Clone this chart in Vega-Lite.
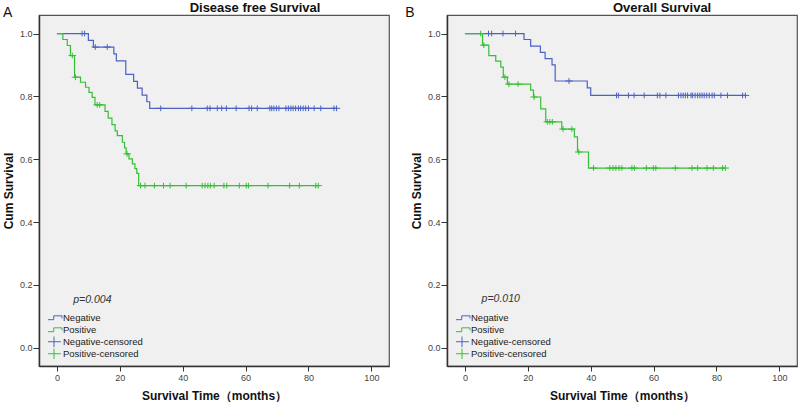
{
  "$schema": "https://vega.github.io/schema/vega-lite/v6.json",
  "autosize": {"type": "pad"},
  "padding": {"left": 1, "top": 0, "right": 0, "bottom": 0},
  "background": "white",
  "bounds": "flush",
  "spacing": 58,
  "resolve": {"scale": {"color": "independent", "shape": "independent"}, "legend": {"color": "independent", "shape": "independent"}},
  "config": {
    "font": "Liberation Sans",
    "view": {"fill": "#f0f0f0", "stroke": "#555555", "strokeWidth": 1.2},
    "axis": {"grid": false, "domainColor": "#333333", "domainWidth": 1.5, "tickColor": "#333333", "labelFontSize": 9, "labelColor": "#444444", "titleFontSize": 12, "titleFontWeight": "bold", "titleColor": "#111111", "labelFont": "Liberation Sans", "titleFont": "Liberation Sans"},
    "legend": {"orient": "none", "legendX": 9, "legendY": 297, "title": null, "labelFontSize": 9.5, "labelColor": "#222222", "symbolSize": 121, "symbolStrokeWidth": 1, "padding": 0, "rowPadding": 0, "clipHeight": 11.5, "labelOffset": 3, "labelFont": "Liberation Sans"}
  },
  "datasets": {
    "dfs_curve": [
      {"series": "Negative", "t": 0, "s": 1.0},
      {"series": "Negative", "t": 10.0, "s": 0.978},
      {"series": "Negative", "t": 11.6, "s": 0.957},
      {"series": "Negative", "t": 18.1, "s": 0.935},
      {"series": "Negative", "t": 18.9, "s": 0.913},
      {"series": "Negative", "t": 21.9, "s": 0.870},
      {"series": "Negative", "t": 24.4, "s": 0.848},
      {"series": "Negative", "t": 25.6, "s": 0.826},
      {"series": "Negative", "t": 27.1, "s": 0.804},
      {"series": "Negative", "t": 28.6, "s": 0.783},
      {"series": "Negative", "t": 29.5, "s": 0.762},
      {"series": "Negative", "t": 88.9, "s": 0.762},
      {"series": "Positive", "t": 0, "s": 1.0},
      {"series": "Positive", "t": 1.9, "s": 0.981},
      {"series": "Positive", "t": 3.3, "s": 0.962},
      {"series": "Positive", "t": 4.3, "s": 0.930},
      {"series": "Positive", "t": 5.6, "s": 0.861},
      {"series": "Positive", "t": 7.5, "s": 0.845},
      {"series": "Positive", "t": 9.1, "s": 0.829},
      {"series": "Positive", "t": 10.2, "s": 0.813},
      {"series": "Positive", "t": 11.2, "s": 0.797},
      {"series": "Positive", "t": 12.1, "s": 0.773},
      {"series": "Positive", "t": 15.3, "s": 0.752},
      {"series": "Positive", "t": 16.3, "s": 0.731},
      {"series": "Positive", "t": 17.5, "s": 0.710},
      {"series": "Positive", "t": 18.5, "s": 0.690},
      {"series": "Positive", "t": 19.2, "s": 0.675},
      {"series": "Positive", "t": 20.8, "s": 0.654},
      {"series": "Positive", "t": 21.5, "s": 0.636},
      {"series": "Positive", "t": 22.0, "s": 0.617},
      {"series": "Positive", "t": 22.9, "s": 0.601},
      {"series": "Positive", "t": 24.0, "s": 0.585},
      {"series": "Positive", "t": 24.8, "s": 0.570},
      {"series": "Positive", "t": 25.4, "s": 0.555},
      {"series": "Positive", "t": 26.0, "s": 0.516},
      {"series": "Positive", "t": 83.1, "s": 0.516}
    ],
    "dfs_cens": [
      {"series": "Negative-censored", "t": 8.0, "s": 1.0},
      {"series": "Negative-censored", "t": 8.8, "s": 1.0},
      {"series": "Negative-censored", "t": 12.2, "s": 0.957},
      {"series": "Negative-censored", "t": 16.0, "s": 0.957},
      {"series": "Negative-censored", "t": 33.0, "s": 0.762},
      {"series": "Negative-censored", "t": 42.9, "s": 0.762},
      {"series": "Negative-censored", "t": 47.8, "s": 0.762},
      {"series": "Negative-censored", "t": 48.7, "s": 0.762},
      {"series": "Negative-censored", "t": 51.0, "s": 0.762},
      {"series": "Negative-censored", "t": 52.4, "s": 0.762},
      {"series": "Negative-censored", "t": 53.9, "s": 0.762},
      {"series": "Negative-censored", "t": 57.0, "s": 0.762},
      {"series": "Negative-censored", "t": 61.1, "s": 0.762},
      {"series": "Negative-censored", "t": 61.9, "s": 0.762},
      {"series": "Negative-censored", "t": 63.7, "s": 0.762},
      {"series": "Negative-censored", "t": 67.7, "s": 0.762},
      {"series": "Negative-censored", "t": 68.3, "s": 0.762},
      {"series": "Negative-censored", "t": 69.0, "s": 0.762},
      {"series": "Negative-censored", "t": 69.8, "s": 0.762},
      {"series": "Negative-censored", "t": 70.6, "s": 0.762},
      {"series": "Negative-censored", "t": 72.8, "s": 0.762},
      {"series": "Negative-censored", "t": 73.6, "s": 0.762},
      {"series": "Negative-censored", "t": 74.4, "s": 0.762},
      {"series": "Negative-censored", "t": 75.1, "s": 0.762},
      {"series": "Negative-censored", "t": 75.9, "s": 0.762},
      {"series": "Negative-censored", "t": 76.8, "s": 0.762},
      {"series": "Negative-censored", "t": 77.5, "s": 0.762},
      {"series": "Negative-censored", "t": 78.3, "s": 0.762},
      {"series": "Negative-censored", "t": 79.1, "s": 0.762},
      {"series": "Negative-censored", "t": 80.0, "s": 0.762},
      {"series": "Negative-censored", "t": 81.8, "s": 0.762},
      {"series": "Negative-censored", "t": 83.9, "s": 0.762},
      {"series": "Negative-censored", "t": 88.1, "s": 0.762},
      {"series": "Negative-censored", "t": 88.9, "s": 0.762},
      {"series": "Positive-censored", "t": 4.9, "s": 0.930},
      {"series": "Positive-censored", "t": 5.9, "s": 0.861},
      {"series": "Positive-censored", "t": 12.8, "s": 0.773},
      {"series": "Positive-censored", "t": 13.6, "s": 0.773},
      {"series": "Positive-censored", "t": 22.3, "s": 0.617},
      {"series": "Positive-censored", "t": 26.6, "s": 0.516},
      {"series": "Positive-censored", "t": 28.0, "s": 0.516},
      {"series": "Positive-censored", "t": 31.0, "s": 0.516},
      {"series": "Positive-censored", "t": 33.9, "s": 0.516},
      {"series": "Positive-censored", "t": 36.0, "s": 0.516},
      {"series": "Positive-censored", "t": 41.1, "s": 0.516},
      {"series": "Positive-censored", "t": 46.2, "s": 0.516},
      {"series": "Positive-censored", "t": 47.1, "s": 0.516},
      {"series": "Positive-censored", "t": 48.0, "s": 0.516},
      {"series": "Positive-censored", "t": 48.8, "s": 0.516},
      {"series": "Positive-censored", "t": 50.0, "s": 0.516},
      {"series": "Positive-censored", "t": 53.1, "s": 0.516},
      {"series": "Positive-censored", "t": 54.0, "s": 0.516},
      {"series": "Positive-censored", "t": 58.0, "s": 0.516},
      {"series": "Positive-censored", "t": 60.2, "s": 0.516},
      {"series": "Positive-censored", "t": 60.9, "s": 0.516},
      {"series": "Positive-censored", "t": 67.1, "s": 0.516},
      {"series": "Positive-censored", "t": 74.0, "s": 0.516},
      {"series": "Positive-censored", "t": 77.1, "s": 0.516},
      {"series": "Positive-censored", "t": 82.3, "s": 0.516},
      {"series": "Positive-censored", "t": 83.1, "s": 0.516}
    ],
    "dfs_letter": [{"label": "A", "t": -15.7, "s": 1.053}],
    "dfs_title": [{"label": "Disease free Survival", "t": 63.0, "s": 1.070}],
    "dfs_p": [{"label": "p=0.004", "t": 5.2, "s": 0.153}],
    "os_curve": [
      {"series": "Negative", "t": 0, "s": 1.0},
      {"series": "Negative", "t": 18.8, "s": 0.981},
      {"series": "Negative", "t": 20.9, "s": 0.960},
      {"series": "Negative", "t": 24.0, "s": 0.940},
      {"series": "Negative", "t": 25.5, "s": 0.920},
      {"series": "Negative", "t": 27.7, "s": 0.900},
      {"series": "Negative", "t": 28.7, "s": 0.849},
      {"series": "Negative", "t": 38.9, "s": 0.827},
      {"series": "Negative", "t": 40.0, "s": 0.803},
      {"series": "Negative", "t": 89.2, "s": 0.803},
      {"series": "Positive", "t": 0, "s": 1.0},
      {"series": "Positive", "t": 5.6, "s": 0.963},
      {"series": "Positive", "t": 7.6, "s": 0.930},
      {"series": "Positive", "t": 9.8, "s": 0.912},
      {"series": "Positive", "t": 11.4, "s": 0.893},
      {"series": "Positive", "t": 12.2, "s": 0.861},
      {"series": "Positive", "t": 13.5, "s": 0.839},
      {"series": "Positive", "t": 20.9, "s": 0.820},
      {"series": "Positive", "t": 21.8, "s": 0.798},
      {"series": "Positive", "t": 24.1, "s": 0.760},
      {"series": "Positive", "t": 25.7, "s": 0.719},
      {"series": "Positive", "t": 30.8, "s": 0.696},
      {"series": "Positive", "t": 34.8, "s": 0.671},
      {"series": "Positive", "t": 35.8, "s": 0.623},
      {"series": "Positive", "t": 39.3, "s": 0.572},
      {"series": "Positive", "t": 82.8, "s": 0.572}
    ],
    "os_cens": [
      {"series": "Negative-censored", "t": 7.5, "s": 1.0},
      {"series": "Negative-censored", "t": 8.5, "s": 1.0},
      {"series": "Negative-censored", "t": 12.1, "s": 1.0},
      {"series": "Negative-censored", "t": 16.1, "s": 1.0},
      {"series": "Negative-censored", "t": 33.1, "s": 0.849},
      {"series": "Negative-censored", "t": 48.2, "s": 0.803},
      {"series": "Negative-censored", "t": 48.8, "s": 0.803},
      {"series": "Negative-censored", "t": 52.0, "s": 0.803},
      {"series": "Negative-censored", "t": 53.8, "s": 0.803},
      {"series": "Negative-censored", "t": 57.0, "s": 0.803},
      {"series": "Negative-censored", "t": 61.2, "s": 0.803},
      {"series": "Negative-censored", "t": 62.0, "s": 0.803},
      {"series": "Negative-censored", "t": 63.9, "s": 0.803},
      {"series": "Negative-censored", "t": 67.9, "s": 0.803},
      {"series": "Negative-censored", "t": 68.7, "s": 0.803},
      {"series": "Negative-censored", "t": 69.4, "s": 0.803},
      {"series": "Negative-censored", "t": 70.1, "s": 0.803},
      {"series": "Negative-censored", "t": 70.8, "s": 0.803},
      {"series": "Negative-censored", "t": 71.9, "s": 0.803},
      {"series": "Negative-censored", "t": 72.4, "s": 0.803},
      {"series": "Negative-censored", "t": 73.2, "s": 0.803},
      {"series": "Negative-censored", "t": 74.0, "s": 0.803},
      {"series": "Negative-censored", "t": 74.7, "s": 0.803},
      {"series": "Negative-censored", "t": 75.4, "s": 0.803},
      {"series": "Negative-censored", "t": 76.1, "s": 0.803},
      {"series": "Negative-censored", "t": 76.9, "s": 0.803},
      {"series": "Negative-censored", "t": 77.7, "s": 0.803},
      {"series": "Negative-censored", "t": 78.6, "s": 0.803},
      {"series": "Negative-censored", "t": 79.3, "s": 0.803},
      {"series": "Negative-censored", "t": 81.4, "s": 0.803},
      {"series": "Negative-censored", "t": 83.5, "s": 0.803},
      {"series": "Negative-censored", "t": 88.3, "s": 0.803},
      {"series": "Negative-censored", "t": 89.2, "s": 0.803},
      {"series": "Positive-censored", "t": 5.0, "s": 1.0},
      {"series": "Positive-censored", "t": 6.0, "s": 0.963},
      {"series": "Positive-censored", "t": 12.7, "s": 0.861},
      {"series": "Positive-censored", "t": 14.0, "s": 0.839},
      {"series": "Positive-censored", "t": 16.9, "s": 0.839},
      {"series": "Positive-censored", "t": 22.0, "s": 0.798},
      {"series": "Positive-censored", "t": 26.2, "s": 0.719},
      {"series": "Positive-censored", "t": 27.0, "s": 0.719},
      {"series": "Positive-censored", "t": 27.8, "s": 0.719},
      {"series": "Positive-censored", "t": 31.2, "s": 0.696},
      {"series": "Positive-censored", "t": 34.0, "s": 0.696},
      {"series": "Positive-censored", "t": 36.2, "s": 0.623},
      {"series": "Positive-censored", "t": 40.9, "s": 0.572},
      {"series": "Positive-censored", "t": 46.1, "s": 0.572},
      {"series": "Positive-censored", "t": 47.1, "s": 0.572},
      {"series": "Positive-censored", "t": 48.0, "s": 0.572},
      {"series": "Positive-censored", "t": 49.0, "s": 0.572},
      {"series": "Positive-censored", "t": 49.9, "s": 0.572},
      {"series": "Positive-censored", "t": 53.1, "s": 0.572},
      {"series": "Positive-censored", "t": 53.9, "s": 0.572},
      {"series": "Positive-censored", "t": 57.7, "s": 0.572},
      {"series": "Positive-censored", "t": 59.9, "s": 0.572},
      {"series": "Positive-censored", "t": 60.7, "s": 0.572},
      {"series": "Positive-censored", "t": 66.9, "s": 0.572},
      {"series": "Positive-censored", "t": 72.2, "s": 0.572},
      {"series": "Positive-censored", "t": 74.0, "s": 0.572},
      {"series": "Positive-censored", "t": 77.0, "s": 0.572},
      {"series": "Positive-censored", "t": 79.0, "s": 0.572},
      {"series": "Positive-censored", "t": 81.9, "s": 0.572},
      {"series": "Positive-censored", "t": 82.8, "s": 0.572}
    ],
    "os_letter": [{"label": "B", "t": -17.5, "s": 1.053}],
    "os_title": [{"label": "Overall Survival", "t": 62.7, "s": 1.070}],
    "os_p": [{"label": "p=0.010", "t": 5.3, "s": 0.155}]
  },
  "hconcat": [
    {
      "width": 350,
      "height": 351,
      "encoding": {
        "x": {"field": "t", "type": "quantitative", "scale": {"domain": [-5.7, 105.6], "nice": false, "zero": false}, "axis": {"values": [0, 20, 40, 60, 80, 100], "title": "Survival Time（months）", "tickSize": 5, "labelPadding": 2, "titlePadding": 8}},
        "y": {"field": "s", "type": "quantitative", "scale": {"domain": [-0.058, 1.059], "nice": false, "zero": false}, "axis": {"values": [0, 0.2, 0.4, 0.6, 0.8, 1.0], "format": ".1f", "title": "Cum Survival", "tickSize": 6, "labelPadding": 1, "titlePadding": 4}}
      },
      "layer": [
        {
          "data": {"name": "dfs_curve"},
          "mark": {"type": "line", "interpolate": "step-after", "strokeWidth": 1.2},
          "encoding": {"color": {"field": "series", "type": "nominal", "scale": {"domain": ["Negative", "Positive", "Negative-censored", "Positive-censored"], "range": ["#4b62c4", "#34c034", "#4b62c4", "#34c034"]}}}
        },
        {
          "data": {"name": "dfs_cens"},
          "mark": {"type": "point", "filled": false, "size": 36, "strokeWidth": 1, "opacity": 1},
          "encoding": {
            "color": {"field": "series", "type": "nominal", "scale": {"domain": ["Negative", "Positive", "Negative-censored", "Positive-censored"], "range": ["#4b62c4", "#34c034", "#4b62c4", "#34c034"]}},
            "shape": {"field": "series", "type": "nominal", "scale": {"domain": ["Negative", "Positive", "Negative-censored", "Positive-censored"], "range": ["M-1.45,0.35H-0.05V-0.35H1.45V0.1", "M-1.45,0.35H-0.05V-0.35H1.45V0.1", "M-1.25,0H1.25M0,-0.95V0.95", "M-1.25,0H1.25M0,-0.95V0.95"]}}
          }
        },
        {
          "data": {"name": "dfs_letter"},
          "mark": {"type": "text", "fontSize": 14, "align": "center", "baseline": "alphabetic", "color": "#111111", "font": "Liberation Sans"},
          "encoding": {"text": {"field": "label"}}
        },
        {
          "data": {"name": "dfs_title"},
          "mark": {"type": "text", "fontSize": 13, "fontWeight": "bold", "align": "center", "baseline": "alphabetic", "color": "#111111", "font": "Liberation Sans"},
          "encoding": {"text": {"field": "label"}}
        },
        {
          "data": {"name": "dfs_p"},
          "mark": {"type": "text", "fontSize": 10.5, "fontStyle": "italic", "align": "left", "baseline": "middle", "color": "#333333", "font": "Liberation Sans"},
          "encoding": {"text": {"field": "label"}}
        }
      ]
    },
    {
      "width": 350,
      "height": 351,
      "encoding": {
        "x": {"field": "t", "type": "quantitative", "scale": {"domain": [-5.7, 105.6], "nice": false, "zero": false}, "axis": {"values": [0, 20, 40, 60, 80, 100], "title": "Survival Time（months）", "tickSize": 5, "labelPadding": 2, "titlePadding": 8}},
        "y": {"field": "s", "type": "quantitative", "scale": {"domain": [-0.058, 1.059], "nice": false, "zero": false}, "axis": {"values": [0, 0.2, 0.4, 0.6, 0.8, 1.0], "format": ".1f", "title": "Cum Survival", "tickSize": 6, "labelPadding": 1, "titlePadding": 4}}
      },
      "layer": [
        {
          "data": {"name": "os_curve"},
          "mark": {"type": "line", "interpolate": "step-after", "strokeWidth": 1.2},
          "encoding": {"color": {"field": "series", "type": "nominal", "scale": {"domain": ["Negative", "Positive", "Negative-censored", "Positive-censored"], "range": ["#4b62c4", "#34c034", "#4b62c4", "#34c034"]}}}
        },
        {
          "data": {"name": "os_cens"},
          "mark": {"type": "point", "filled": false, "size": 36, "strokeWidth": 1, "opacity": 1},
          "encoding": {
            "color": {"field": "series", "type": "nominal", "scale": {"domain": ["Negative", "Positive", "Negative-censored", "Positive-censored"], "range": ["#4b62c4", "#34c034", "#4b62c4", "#34c034"]}},
            "shape": {"field": "series", "type": "nominal", "scale": {"domain": ["Negative", "Positive", "Negative-censored", "Positive-censored"], "range": ["M-1.45,0.35H-0.05V-0.35H1.45V0.1", "M-1.45,0.35H-0.05V-0.35H1.45V0.1", "M-1.25,0H1.25M0,-0.95V0.95", "M-1.25,0H1.25M0,-0.95V0.95"]}}
          }
        },
        {
          "data": {"name": "os_letter"},
          "mark": {"type": "text", "fontSize": 14, "align": "center", "baseline": "alphabetic", "color": "#111111", "font": "Liberation Sans"},
          "encoding": {"text": {"field": "label"}}
        },
        {
          "data": {"name": "os_title"},
          "mark": {"type": "text", "fontSize": 13, "fontWeight": "bold", "align": "center", "baseline": "alphabetic", "color": "#111111", "font": "Liberation Sans"},
          "encoding": {"text": {"field": "label"}}
        },
        {
          "data": {"name": "os_p"},
          "mark": {"type": "text", "fontSize": 10.5, "fontStyle": "italic", "align": "left", "baseline": "middle", "color": "#333333", "font": "Liberation Sans"},
          "encoding": {"text": {"field": "label"}}
        }
      ]
    }
  ]
}
